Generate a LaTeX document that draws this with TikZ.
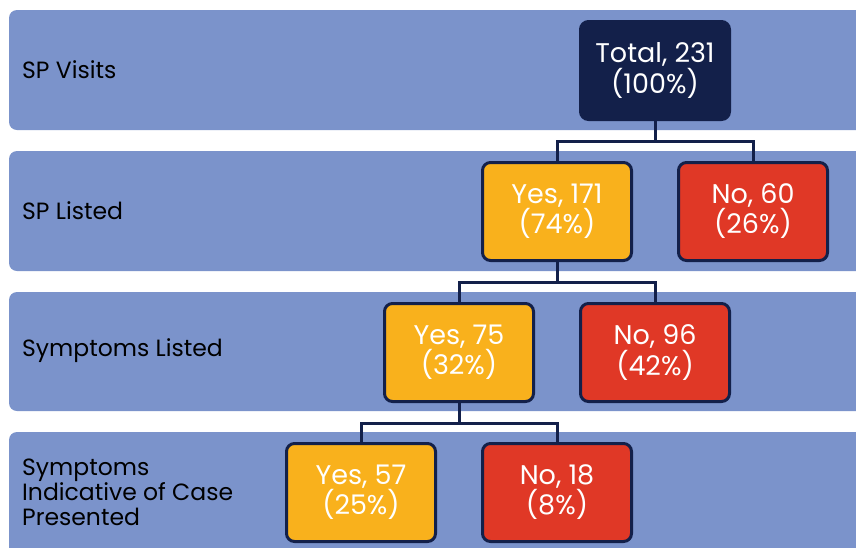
\documentclass[tikz,border=0pt]{standalone}
\usepackage{fontspec}
\setmainfont{Poppins}
\definecolor{band}{HTML}{7B93CB}
\definecolor{navy}{HTML}{13204A}
\definecolor{yel}{HTML}{F9B11C}
\definecolor{redb}{HTML}{E03826}
\begin{document}
\begin{tikzpicture}[x=1pt,y=-1pt,
  bandbox/.style={fill=band,rounded corners=8pt},
  rowlabel/.style={anchor=west,align=left,font=\fontsize{23.5}{25}\selectfont,text=black,inner sep=0pt},
  valbox/.style={draw=navy,line width=3pt,rounded corners=8pt,minimum width=149pt,minimum height=98pt,text=white,align=center,font=\fontsize{27}{29}\selectfont,inner sep=0pt},
  yesbox/.style={valbox,fill=yel},
  nobox/.style={valbox,fill=redb},
  totbox/.style={valbox,fill=navy},
  conn/.style={draw=navy,line width=3pt}]
\useasboundingbox (0,0) rectangle (856,547);
\clip (0,0) rectangle (856,547);
% bands
\path[bandbox] (9,10) rectangle (880,130);
\path[bandbox] (9,151) rectangle (880,271);
\path[bandbox] (9,292) rectangle (880,411);
\path[bandbox] (9,432) rectangle (880,570);
% row labels
\node[rowlabel] (l1) at (22,70) {SP Visits};
\node[rowlabel] (l2) at (22,211) {SP Listed};
\node[rowlabel] (l3) at (22,351) {Symptoms Listed};
\node[rowlabel] (l4) at (22,492) {Symptoms\\Indicative of Case\\Presented};
% boxes
\node[totbox] (tot) at (655,70.5) {Total, 231\\(100\%)};
\node[yesbox] (y1) at (557,211.5) {Yes, 171\\(74\%)};
\node[nobox] (n1) at (753,211.5) {No, 60\\(26\%)};
\node[yesbox] (y2) at (459,352.5) {Yes, 75\\(32\%)};
\node[nobox] (n2) at (655,352.5) {No, 96\\(42\%)};
\node[yesbox] (y3) at (361,492.5) {Yes, 57\\(25\%)};
\node[nobox] (n3) at (557,492.5) {No, 18\\(8\%)};
% connectors
\draw[conn] (tot.south) -- ++(0,20) -| (y1.north);
\draw[conn] (tot.south) -- ++(0,20) -| (n1.north);
\draw[conn] (y1.south) -- ++(0,20) -| (y2.north);
\draw[conn] (y1.south) -- ++(0,20) -| (n2.north);
\draw[conn] (y2.south) -- ++(0,20) -| (y3.north);
\draw[conn] (y2.south) -- ++(0,20) -| (n3.north);
\end{tikzpicture}
\end{document}
